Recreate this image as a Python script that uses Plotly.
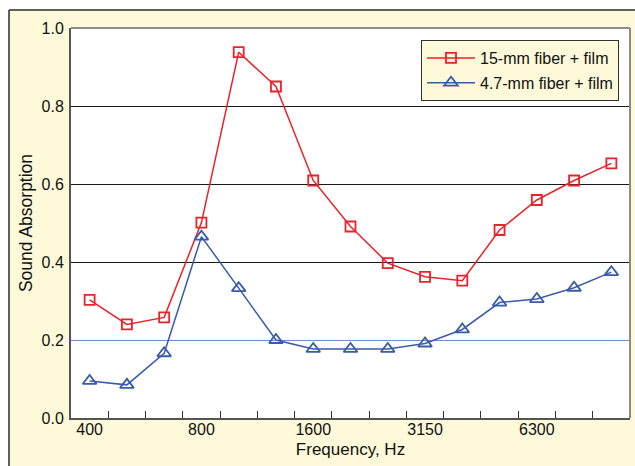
import plotly.graph_objects as go

# Measurement frequencies (1/3-octave bands) and absorption coefficients
freqs = ["400", "500", "630", "800", "1000", "1250", "1600", "2000",
         "2500", "3150", "4000", "5000", "6300", "8000", "10000"]
fiber_15mm = [0.303, 0.240, 0.258, 0.501, 0.938, 0.850, 0.609, 0.491,
              0.397, 0.362, 0.352, 0.482, 0.559, 0.609, 0.653]
fiber_4_7mm = [0.095, 0.085, 0.166, 0.465, 0.333, 0.200, 0.177, 0.177,
               0.177, 0.191, 0.227, 0.296, 0.305, 0.334, 0.374]
labelled_freqs = ["400", "800", "1600", "3150", "6300"]
y_ticks = [0.0, 0.2, 0.4, 0.6, 0.8, 1.0]
grid_black = [0.4, 0.6, 0.8]
grid_blue = [0.2]

RED = "#E8232C"
BLUE = "#3A5BAA"
CREAM = "#FEF9D8"
FONT = "Liberation Sans, Arial, sans-serif"

W, H = 635, 466
L, R, T, B = 71, 5, 28, 48
pw, ph = W - L - R, H - T - B
HALF_PX = 0.5 / ph  # nudge 1px lines onto a pixel row so they stay crisp

def px_x(px):
    return (px - L) / pw

def px_y(py):
    return (H - B - py) / ph

idx = list(range(len(freqs)))

fig = go.Figure()
fig.add_trace(go.Scatter(
    x=idx, y=fiber_15mm, mode="lines+markers", name="15-mm fiber + film",
    line=dict(color=RED, width=1.5),
    marker=dict(symbol="square-open", size=10, color=RED, line=dict(width=1.8)),
    legendgroup="a",
))
fig.add_trace(go.Scatter(
    x=idx, y=fiber_4_7mm, mode="lines+markers", name="4.7-mm fiber + film",
    line=dict(color=BLUE, width=1.5),
    marker=dict(symbol="triangle-up-open", size=12, color=BLUE, line=dict(width=1.8)),
    legendgroup="b",
))

shapes = []
# white surround outside the framed panel
shapes.append(dict(type="rect", xref="paper", yref="paper", layer="below",
                   x0=px_x(-20), x1=px_x(9), y0=px_y(H + 20), y1=px_y(-20),
                   fillcolor="white", line=dict(width=0)))
shapes.append(dict(type="rect", xref="paper", yref="paper", layer="below",
                   x0=px_x(-20), x1=px_x(W + 20), y0=px_y(10), y1=px_y(-20),
                   fillcolor="white", line=dict(width=0)))
# frame edges
shapes.append(dict(type="line", xref="paper", yref="paper",
                   x0=px_x(9), x1=px_x(9), y0=px_y(10), y1=px_y(H + 20),
                   line=dict(color="#2a2a2a", width=1.5)))
shapes.append(dict(type="line", xref="paper", yref="paper",
                   x0=px_x(9), x1=px_x(W + 20), y0=px_y(10), y1=px_y(10),
                   line=dict(color="#2a2a2a", width=1.5)))
# horizontal reference lines
for g in grid_black:
    shapes.append(dict(type="line", xref="paper", yref="y", layer="between",
                       x0=0, x1=1, y0=g - HALF_PX, y1=g - HALF_PX,
                       line=dict(color="#1a1a1a", width=1)))
for g in grid_blue:
    shapes.append(dict(type="line", xref="paper", yref="y", layer="between",
                       x0=0, x1=1, y0=g - HALF_PX, y1=g - HALF_PX,
                       line=dict(color="#6F8CC8", width=1.2)))
# top and right panel border
shapes.append(dict(type="line", xref="paper", yref="paper",
                   x0=0, x1=1, y0=1, y1=1, line=dict(color="#8c8c8c", width=2)))
shapes.append(dict(type="line", xref="paper", yref="paper",
                   x0=1, x1=1, y0=0, y1=1, line=dict(color="#8c8c8c", width=2)))

fig.update_layout(
    width=W, height=H,
    margin=dict(l=L, r=R, t=T, b=B, pad=0),
    paper_bgcolor=CREAM, plot_bgcolor="white",
    font=dict(family=FONT, size=16, color="#111111"),
    shapes=shapes,
    showlegend=True,
    legend=dict(
        x=px_x(619), xanchor="right", y=px_y(40), yanchor="top",
        bgcolor=CREAM, bordercolor="#333333", borderwidth=1,
        font=dict(family=FONT, size=16, color="#111111"),
        tracegroupgap=1, traceorder="grouped", itemwidth=48,
    ),
    xaxis=dict(
        range=[-0.5, 14.5], automargin=False,
        tickmode="array", tickvals=[freqs.index(f) for f in labelled_freqs],
        ticktext=labelled_freqs, ticks="", ticklabelstandoff=-4,
        tickfont=dict(size=16),
        showgrid=False, zeroline=False,
        showline=True, linecolor="#555555", linewidth=2,
        minor=dict(tickmode="array", tickvals=[i + 0.5 for i in idx[:-1]],
                   ticks="inside", ticklen=7, tickcolor="#333333", tickwidth=1,
                   showgrid=False),
        title=dict(text="Frequency, Hz", font=dict(size=17), standoff=6),
    ),
    yaxis=dict(
        range=[0, 1.0], automargin=False,
        tickmode="array", tickvals=y_ticks,
        ticktext=[f"{v:.1f}" for v in y_ticks], ticks="", ticklabelstandoff=2,
        tickfont=dict(size=16),
        showgrid=False, zeroline=False,
        showline=True, linecolor="#555555", linewidth=2,
        title=dict(text="Sound Absorption", font=dict(size=17.5), standoff=4),
    ),
)

fig.write_html("out.html")
